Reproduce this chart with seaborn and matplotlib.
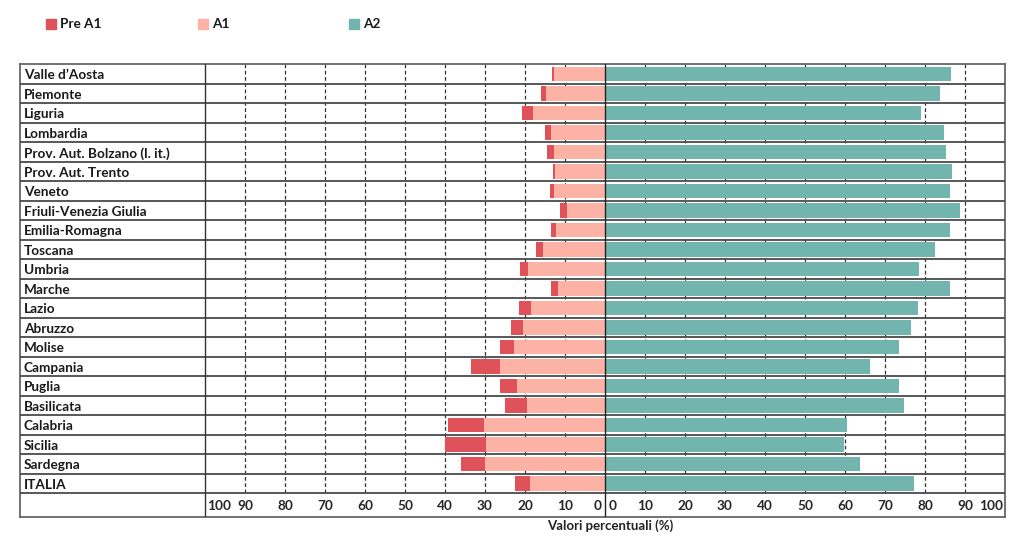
import matplotlib
matplotlib.use("Agg")
import matplotlib.pyplot as plt
from matplotlib.patches import Rectangle
import seaborn as sns
import pandas as pd

regions = ["Valle d\u2019Aosta", "Piemonte", "Liguria", "Lombardia",
           "Prov. Aut. Bolzano (l. it.)", "Prov. Aut. Trento", "Veneto",
           "Friuli-Venezia Giulia", "Emilia-Romagna", "Toscana", "Umbria",
           "Marche", "Lazio", "Abruzzo", "Molise", "Campania", "Puglia",
           "Basilicata", "Calabria", "Sicilia", "Sardegna", "ITALIA"]
pre_a1 = [0.4, 1.4, 2.7, 1.6, 1.9, 0.7, 1.0, 1.7, 1.3, 1.8, 2.0,
          1.6, 3.0, 3.0, 3.5, 7.3, 4.4, 5.6, 9.1, 10.3, 5.9, 3.7]
a1 = [12.8, 14.7, 18.1, 13.4, 12.7, 12.4, 12.7, 9.6, 12.2, 15.4, 19.2,
      11.8, 18.5, 20.5, 22.8, 26.3, 21.9, 19.5, 30.2, 29.8, 30.0, 18.7]
a2 = [86.5, 83.7, 79.1, 84.7, 85.2, 86.7, 86.2, 88.7, 86.3, 82.6, 78.5,
      86.3, 78.3, 76.4, 73.6, 66.2, 73.6, 74.7, 60.5, 59.8, 63.8, 77.3]
series_names = ["Pre A1", "A1", "A2"]
left_ticks = [100, 90, 80, 70, 60, 50, 40, 30, 20, 10, 0]
right_ticks = [0, 10, 20, 30, 40, 50, 60, 70, 80, 90, 100]
x_label = "Valori percentuali (%)"

c_pre, c_a1, c_a2 = "#e0525a", "#fcb2a4", "#72b5ae"

df = pd.DataFrame({"region": regions, "pre": pre_a1, "a1": a1, "a2": a2})
df["neg_total"] = -(df["pre"] + df["a1"])
df["neg_a1"] = -df["a1"]

sns.set_style("white")
plt.rcParams["font.family"] = ["Lato", "DejaVu Sans"]
plt.rcParams["font.weight"] = "bold"

W, H = 1023, 539
fig = plt.figure(figsize=(W / 100, H / 100), dpi=100)
top_px, bot_px, left_px, right_px = 64.3, 516.7, 20, 1005
ax = fig.add_axes([left_px / W, 1 - bot_px / H, (right_px - left_px) / W, (bot_px - top_px) / H])

n = len(regions)
xmin = -100 - 185 / 4.0
# dashed gridlines behind bars
for v in range(10, 100, 10):
    for s in (-1, 1):
        ax.plot([s * v, s * v], [-0.5, n - 0.5], color="#333333", lw=0.9,
                ls=(0, (3, 2)), zorder=0)

sns.barplot(data=df, y="region", x="neg_total", color=c_pre, orient="h",
            width=0.75, ax=ax, zorder=2, saturation=1, edgecolor="none")
sns.barplot(data=df, y="region", x="neg_a1", color=c_a1, orient="h",
            width=0.75, ax=ax, zorder=3, saturation=1, edgecolor="none")
sns.barplot(data=df, y="region", x="a2", color=c_a2, orient="h",
            width=0.75, ax=ax, zorder=3, saturation=1, edgecolor="none")

axis_row = 1.2
ax.set_xlim(xmin, 100)
ax.set_ylim(n - 0.5 + axis_row, -0.5)

# row separators
for k in range(n):
    ax.axhline(k + 0.5, color="#4a4a4a", lw=1.3, zorder=4)
# column divider and zero line
ax.plot([-100, -100], [-0.5, n - 0.5 + axis_row], color="#333333", lw=1.0, zorder=4)
ax.plot([0, 0], [-0.5, n - 0.5 + axis_row], color="#222222", lw=1.0, zorder=4)

for sp in ax.spines.values():
    sp.set_color("#666666")
    sp.set_linewidth(1.3)
ax.set_xticks([])
ax.set_yticks([])
ax.set_ylabel("")
ax.set_xlabel(x_label, fontsize=9.5, fontweight="bold", color="#222222")
ax.xaxis.set_label_coords((610 - left_px) / (right_px - left_px), -0.006)

fs = 9.8
for i, r in enumerate(regions):
    ax.text(xmin + 1.0, i + 0.06, r, ha="left", va="center", fontsize=fs,
            color="#1a1a1a", fontweight="bold")

ty = n - 0.5 + axis_row / 2 + 0.03
for v in left_ticks:
    if v == 100:
        ax.text(-99.4, ty, str(v), ha="left", va="center", fontsize=fs)
    elif v == 0:
        ax.text(-0.9, ty, str(v), ha="right", va="center", fontsize=fs)
    else:
        ax.text(-v, ty, str(v), ha="center", va="center", fontsize=fs)
for v in right_ticks:
    if v == 100:
        ax.text(99.4, ty, str(v), ha="right", va="center", fontsize=fs)
    elif v == 0:
        ax.text(0.9, ty, str(v), ha="left", va="center", fontsize=fs)
    else:
        ax.text(v, ty, str(v), ha="center", va="center", fontsize=fs)

# legend
leg_x = [46, 198, 349]
for xp, name, col in zip(leg_x, series_names, [c_pre, c_a1, c_a2]):
    fig.patches.append(Rectangle((xp / W, 1 - 29 / H), 10 / W, 10 / H,
                                 transform=fig.transFigure, color=col))
    fig.text((xp + 14) / W, 1 - 24 / H, name, ha="left", va="center",
             fontsize=fs, fontweight="bold", color="#1a1a1a")

fig.savefig("out.png", dpi=100)
